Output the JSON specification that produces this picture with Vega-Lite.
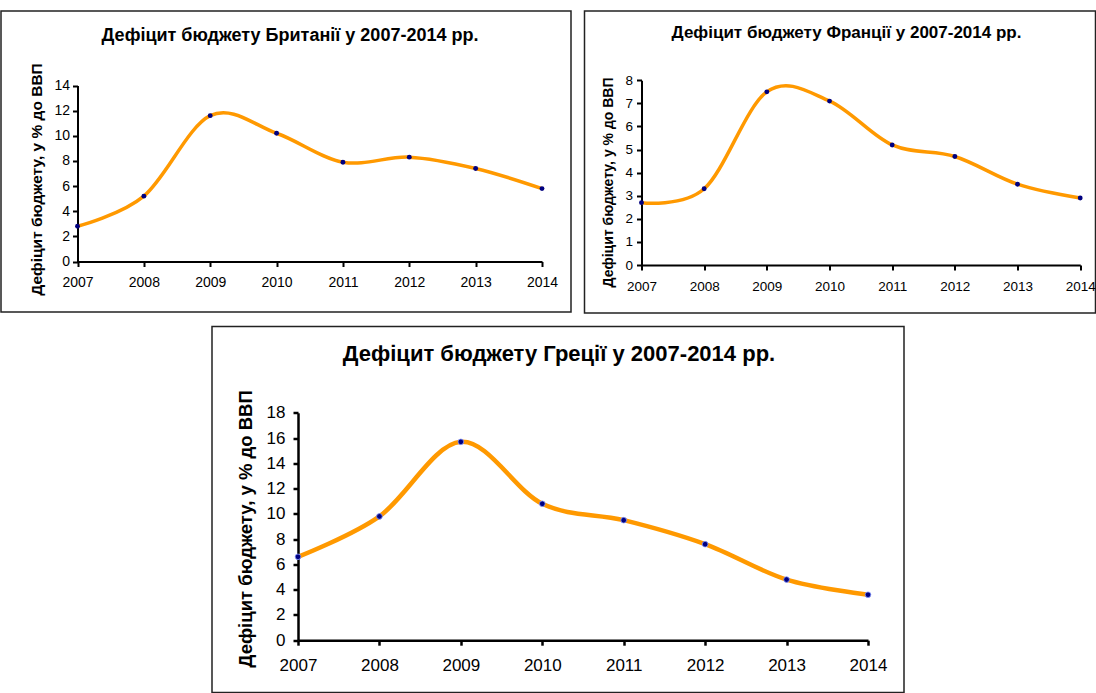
{
  "$schema": "https://vega.github.io/schema/vega-lite/v6.json",
  "padding": {"left": 0, "top": 10, "right": 0, "bottom": 0},
  "background": "white",
  "spacing": 11.5,
  "config": {
    "font": "Liberation Sans",
    "view": {"stroke": "#222222", "strokeWidth": 1.5},
    "axis": {
      "grid": false,
      "domainColor": "#000000",
      "domainWidth": 2,
      "tickColor": "#000000",
      "tickWidth": 2,
      "tickSize": 5,
      "labelColor": "#000000",
      "labelFont": "Liberation Sans",
      "labelFlush": false,
      "labelOverlap": false,
      "titleColor": "#000000",
      "titleFont": "Liberation Sans",
      "titleFontWeight": "bold"
    },
    "title": {"color": "#000000", "font": "Liberation Sans", "fontWeight": "bold", "frame": "group"}
  },
  "datasets": {
    "uk": [
      {"year": 2007, "deficit": 2.8},
      {"year": 2008, "deficit": 5.2},
      {"year": 2009, "deficit": 11.6},
      {"year": 2010, "deficit": 10.2},
      {"year": 2011, "deficit": 7.9},
      {"year": 2012, "deficit": 8.3},
      {"year": 2013, "deficit": 7.4},
      {"year": 2014, "deficit": 5.8}
    ],
    "fr": [
      {"year": 2007, "deficit": 2.7},
      {"year": 2008, "deficit": 3.3},
      {"year": 2009, "deficit": 7.5},
      {"year": 2010, "deficit": 7.1},
      {"year": 2011, "deficit": 5.2},
      {"year": 2012, "deficit": 4.7},
      {"year": 2013, "deficit": 3.5},
      {"year": 2014, "deficit": 2.9}
    ],
    "gr": [
      {"year": 2007, "deficit": 6.6},
      {"year": 2008, "deficit": 9.8},
      {"year": 2009, "deficit": 15.7},
      {"year": 2010, "deficit": 10.8},
      {"year": 2011, "deficit": 9.5},
      {"year": 2012, "deficit": 7.6},
      {"year": 2013, "deficit": 4.8},
      {"year": 2014, "deficit": 3.6}
    ]
  },
  "vconcat": [
    {
      "spacing": 11.5,
      "hconcat": [
        {
          "width": 570,
          "height": 301,
          "title": {"text": "Дефіцит бюджету Британії у 2007-2014 рр.", "fontSize": 18, "offset": -31, "baseline": "alphabetic", "dx": 4, "dy": 17},
          "data": {"name": "uk"},
          "encoding": {
            "x": {
              "field": "year", "type": "quantitative",
              "scale": {"domain": [2007, 2014], "range": [76.5, 541]},
              "axis": {"values": [2007, 2008, 2009, 2010, 2011, 2012, 2013, 2014], "format": "d", "title": null, "offset": -50.5, "labelFontSize": 14, "labelPadding": 9, "encode": {"ticks": {"update": {"y": {"value": -5}}}}}
            },
            "y": {
              "field": "deficit", "type": "quantitative",
              "scale": {"domain": [0, 14], "range": [250.5, 74.5]},
              "axis": {"values": [0, 2, 4, 6, 8, 10, 12, 14], "title": "Дефіцит бюджету, у % до ВВП", "offset": -76.5, "titleX": -41.5, "titleY": 168, "titleAngle": -90, "titleAlign": "center", "titleBaseline": "middle", "titleFontSize": 15.5, "labelFontSize": 14, "labelPadding": 3, "encode": {"ticks": {"update": {"x": {"value": 5}}}}}
            }
          },
          "layer": [
            {"mark": {"type": "line", "interpolate": "cardinal", "color": "#FF9900", "strokeWidth": 3.5}},
            {"mark": {"type": "point", "filled": true, "color": "#000080", "size": 24, "opacity": 1}}
          ]
        },
        {
          "width": 511,
          "height": 302,
          "title": {"text": "Дефіцит бюджету Франції у 2007-2014 рр.", "fontSize": 17, "offset": -28.3, "baseline": "alphabetic", "dx": 6.5, "dy": 16},
          "data": {"name": "fr"},
          "encoding": {
            "x": {
              "field": "year", "type": "quantitative",
              "scale": {"domain": [2007, 2014], "range": [57, 495.7]},
              "axis": {"values": [2007, 2008, 2009, 2010, 2011, 2012, 2013, 2014], "format": "d", "title": null, "offset": -48, "labelFontSize": 13.5, "labelPadding": 9, "encode": {"ticks": {"update": {"y": {"value": -5}}}}}
            },
            "y": {
              "field": "deficit", "type": "quantitative",
              "scale": {"domain": [0, 8], "range": [254, 69.3]},
              "axis": {"values": [0, 1, 2, 3, 4, 5, 6, 7, 8], "title": "Дефіцит бюджету, у % до ВВП", "offset": -57, "titleX": -33, "titleY": 171, "titleAngle": -90, "titleAlign": "center", "titleBaseline": "middle", "titleFontSize": 14, "labelFontSize": 13.5, "labelPadding": 4, "encode": {"ticks": {"update": {"x": {"value": 5}}}}}
            }
          },
          "layer": [
            {"mark": {"type": "line", "interpolate": "cardinal", "color": "#FF9900", "strokeWidth": 3.5}},
            {"mark": {"type": "point", "filled": true, "color": "#000080", "size": 24, "opacity": 1}}
          ]
        }
      ]
    },
    {
      "spacing": 0,
      "hconcat": [
        {
          "width": 209,
          "height": 366,
          "view": {"stroke": "transparent", "fill": "transparent"},
          "data": {"values": []},
          "mark": {"type": "point", "opacity": 0},
          "encoding": {}
        },
        {
          "width": 692,
          "height": 366,
          "title": {"text": "Дефіцит бюджету Греції у 2007-2014 рр.", "fontSize": 22, "offset": -36, "baseline": "alphabetic", "dx": 1, "dy": 20},
          "data": {"name": "gr"},
          "encoding": {
            "x": {
              "field": "year", "type": "quantitative",
              "scale": {"domain": [2007, 2014], "range": [86, 656]},
              "axis": {"values": [2007, 2008, 2009, 2010, 2011, 2012, 2013, 2014], "format": "d", "title": null, "offset": -52.3, "labelFontSize": 17, "labelPadding": 12, "domainWidth": 2.5, "tickWidth": 2.5, "encode": {"ticks": {"update": {"y": {"value": -5}}}}}
            },
            "y": {
              "field": "deficit", "type": "quantitative",
              "scale": {"domain": [0, 18], "range": [313.7, 86.3]},
              "axis": {"values": [0, 2, 4, 6, 8, 10, 12, 14, 16, 18], "title": "Дефіцит бюджету, у % до ВВП", "offset": -86, "titleX": -53, "titleY": 202, "titleAngle": -90, "titleAlign": "center", "titleBaseline": "middle", "titleFontSize": 18.5, "labelFontSize": 17, "labelPadding": 8, "domainWidth": 2.5, "tickWidth": 2.5, "encode": {"ticks": {"update": {"x": {"value": 5}}}}}
            }
          },
          "layer": [
            {"mark": {"type": "line", "interpolate": "cardinal", "color": "#FF9900", "strokeWidth": 4.5}},
            {"mark": {"type": "point", "filled": true, "color": "#000080", "size": 32, "opacity": 1, "stroke": "#8899ff", "strokeWidth": 0.8}}
          ]
        }
      ]
    }
  ]
}
